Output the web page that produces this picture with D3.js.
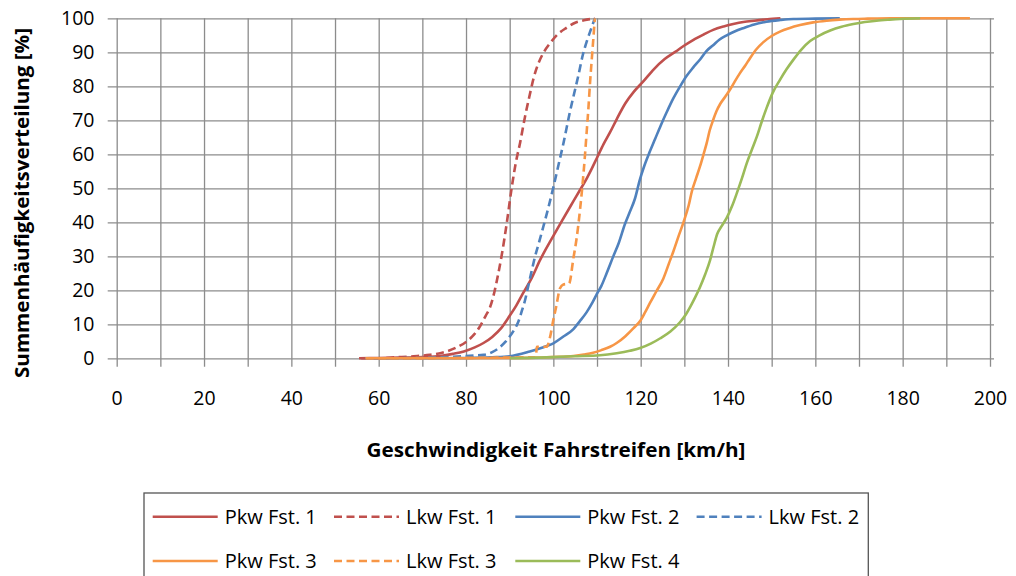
<!DOCTYPE html>
<html><head><meta charset="utf-8">
<script src="https://cdn.jsdelivr.net/npm/d3@7"></script>
<style>
html,body{margin:0;padding:0;background:#fff;}
svg{display:block;font-family:"Open Sans",Lato,sans-serif;}
</style></head>
<body>
<svg id="chart" width="1016" height="576"></svg>
<script>
const xTicks = d3.range(0, 201, 20);
const yTicks = d3.range(0, 101, 10);
const seriesNames = ["Pkw Fst. 1","Lkw Fst. 1","Pkw Fst. 2","Lkw Fst. 2","Pkw Fst. 3","Lkw Fst. 3","Pkw Fst. 4"];
const seriesColors = ["#C0504D","#C0504D","#4F81BD","#4F81BD","#F79646","#F79646","#9BBB59"];
const seriesDashed = [false,true,false,true,false,true,false];

const pkw1 = [[55.5,0],[60,0.1],[65,0.2],[70,0.4],[74,0.7],[77,1.3],[79.5,2],[82,3.2],[84,4.5],[86,6.3],[88,8.8],[90,12.5],[91.5,15.5],[93,19],[95,23.5],[97,29],[100,36],[102,40.5],[104.5,46],[106.1,49.5],[107.6,52.8],[108.8,55.8],[110,59],[111.5,63],[113,66.5],[114.5,70.3],[116.5,75],[118.5,78.5],[120.5,81.3],[123,85],[125.5,88],[128,90.2],[130,92],[132,93.6],[134.5,95.3],[136.6,96.6],[139,97.6],[141.2,98.3],[143.5,98.9],[146,99.3],[149,99.7],[152,100]];
const lkw1 = [[56,0],[60,0],[64,0.3],[68,0.6],[71.7,1],[75,1.8],[78,3.3],[80,4.8],[81.5,6.5],[83,9],[84.5,12.5],[85.5,15],[86.5,19.5],[87.4,25],[88.2,30.5],[89.3,39.5],[90.5,50.5],[91.4,57.5],[92.4,63.5],[93.5,71],[94.6,77.5],[95.5,82.5],[96.5,86.5],[97.8,90],[99.2,92.6],[101,95.3],[103,97.2],[105,98.7],[107,99.4],[109.5,100]];
const pkw2 = [[57,0],[70,0],[80,0.1],[86,0.3],[90,0.6],[94.6,2],[98.5,3.6],[100,4.4],[102.3,6.4],[104.6,8.6],[106,10.8],[107.6,13.5],[109,16.5],[110,19],[111,21.3],[112.2,25],[113.7,29.9],[115,34],[116.4,39.5],[117.5,43],[118.7,47],[119.8,52.5],[120.8,56.5],[122,60.5],[123.3,64.5],[124.6,68.5],[126,72.5],[127.5,76.5],[129,79.9],[130.5,83],[132,85.5],[133.6,87.9],[135,90.3],[136.6,92.1],[138,93.7],[139.7,95],[141.5,96.1],[143.5,97.1],[146,98.2],[148.8,99],[152,99.5],[155,99.8],[160,99.9],[165.6,100]];
const lkw2 = [[57,0],[70,0.1],[77.9,0.5],[82,0.8],[84,1],[86,1.8],[87.5,3],[89,4.8],[90,6.4],[91,8.3],[92,10.8],[92.8,14],[93.5,17],[94.3,21.5],[95,25.5],[95.8,29.9],[96.7,34],[97.7,38.7],[98.8,44],[100,50.3],[101.2,57],[102.3,63.2],[103.8,72.5],[104.6,77],[105.7,83],[106.8,89.5],[107.6,93],[108.4,96],[109.5,100]];
const pkw3 = [[57,0],[70,0],[80,0],[90,0.1],[96,0.2],[100,0.4],[104.6,0.7],[107,1.1],[109.1,1.6],[111,2.4],[113,3.4],[114.5,4.5],[116.5,6.5],[118.3,8.8],[120,11.2],[121,13.5],[122.1,16.2],[123.5,19.5],[125.2,23.5],[126.5,28],[127.5,31.5],[128.7,36],[129.8,40],[131,45],[131.7,49],[132.7,53],[133.6,56.5],[134.4,60],[135.1,63.2],[135.8,67],[136.6,70.1],[137.4,72.8],[138.2,74.8],[139.4,77],[140.4,78.9],[141.5,81.3],[142.7,83.8],[144,86.2],[145,88.2],[146.5,90.9],[148.1,93],[150,94.8],[151.9,96.1],[154,97.1],[156.5,98],[159.5,98.8],[162.6,99.3],[165.5,99.6],[168.7,99.8],[172,99.9],[177.2,100],[195.4,100]];
const lkw3 = [[57,0],[96,0.3],[96.2,3.4],[98.5,3.4],[99.2,6],[100,11.3],[100.7,15.5],[101.5,20.5],[102.3,21.7],[103.6,22],[104.6,29.5],[105.3,35],[106.1,43.6],[106.6,50],[107.2,59],[107.6,66],[108,73],[108.4,81],[108.8,88],[109.1,93],[109.5,100]];
const pkw4 = [[90,0],[96.9,0.2],[104.6,0.6],[110.7,0.9],[114.5,1.5],[117.5,2.2],[119.9,3],[122.3,4.3],[124.5,5.9],[126.8,7.9],[129,10.6],[130.3,12.8],[131.5,15.5],[132.5,18],[133.6,21],[134.8,24.8],[135.9,28.9],[136.7,32.8],[137.5,36.5],[138.5,38.8],[139.7,41.3],[141,45],[142,48.5],[143.2,53],[144.3,57.4],[145.5,61.5],[146.6,65.2],[147.7,69.5],[148.8,73.5],[150.2,78],[151.9,81.9],[153.4,85],[154.9,87.7],[156.8,90.8],[158.8,93.3],[161,95],[163.4,96.4],[166,97.5],[168.7,98.3],[171.3,98.9],[174,99.3],[177,99.6],[179.4,99.8],[184,100]];
const seriesData = [pkw1, lkw1, pkw2, lkw2, pkw3, lkw3, pkw4];

const svg = d3.select("#chart");
const x = d3.scaleLinear().domain([0,200]).range([116.7,990]);
const y = d3.scaleLinear().domain([0,100]).range([358.3,18.3]);
const gridColor = "#8c8c8c";
const FONT = "'Open Sans'";

// vertical grid (every 10) with outward ticks
const gx = svg.append("g").attr("transform","translate(0,366.7)")
  .call(d3.axisBottom(x).tickValues(d3.range(0,201,10)).tickSize(-(366.7-18.3)).tickFormat(""));
gx.select(".domain").remove();
gx.selectAll("line").attr("stroke",gridColor).attr("stroke-width",1.3);

// horizontal grid with outward ticks
const gy = svg.append("g").attr("transform","translate(107.7,0)")
  .call(d3.axisLeft(y).tickValues(yTicks).tickSize(-(994-107.7)).tickFormat(""));
gy.select(".domain").remove();
gy.selectAll("line").attr("stroke",gridColor).attr("stroke-width",1.3);

// tick labels
const lx = svg.append("g").attr("transform","translate(0,391)")
  .call(d3.axisBottom(x).tickValues(xTicks).tickSize(0).tickPadding(0));
lx.select(".domain").remove();
lx.selectAll("text").attr("font-family",FONT).attr("font-size",19.5).attr("fill","#000");

const ly = svg.append("g").attr("transform","translate(94.5,0)")
  .call(d3.axisLeft(y).tickValues(yTicks).tickSize(0).tickPadding(0));
ly.select(".domain").remove();
ly.selectAll("text").attr("font-family",FONT).attr("font-size",19.5).attr("fill","#000");

// lines
const line = d3.line().x(d=>x(d[0])).y(d=>y(d[1])).curve(d3.curveMonotoneX);
seriesData.forEach((data,i)=>{
  svg.append("path").datum(data)
    .attr("d", line)
    .attr("fill","none")
    .attr("stroke", seriesColors[i])
    .attr("stroke-width", 2.6)
    .attr("stroke-linejoin","round")
    .attr("stroke-dasharray", seriesDashed[i] ? "8,4.5" : null);
});

// axis titles
svg.append("text").attr("x",556).attr("y",456.5).attr("text-anchor","middle")
  .attr("font-family",FONT).attr("font-weight","bold").attr("font-size",19)
  .attr("textLength",379).attr("lengthAdjust","spacingAndGlyphs")
  .text("Geschwindigkeit Fahrstreifen [km/h]");
svg.append("text").attr("transform","translate(29,203) rotate(-90)").attr("text-anchor","middle")
  .attr("font-family",FONT).attr("font-weight","bold").attr("font-size",19)
  .attr("textLength",350).attr("lengthAdjust","spacingAndGlyphs")
  .text("Summenhäufigkeitsverteilung [%]");

// legend
const lg = svg.append("g");
lg.append("rect").attr("x",144).attr("y",493).attr("width",724.3).attr("height",120)
  .attr("fill","#fff").attr("stroke","#555").attr("stroke-width",1.3);
const rowsY = [516.7, 561];
seriesNames.forEach((name,i)=>{
  const col = i % 4, row = Math.floor(i/4);
  const lx0 = 152.7 + col*181.3, ly0 = rowsY[row];
  lg.append("line").attr("x1",lx0).attr("x2",lx0+65).attr("y1",ly0).attr("y2",ly0)
    .attr("stroke",seriesColors[i]).attr("stroke-width",2.6)
    .attr("stroke-dasharray", seriesDashed[i] ? "8,4.5" : null);
  lg.append("text").attr("x", lx0 + 72).attr("y", ly0+7)
    .attr("font-family",FONT).attr("font-size",20).attr("fill","#000")
    .text(name);
});
</script>
</body></html>
